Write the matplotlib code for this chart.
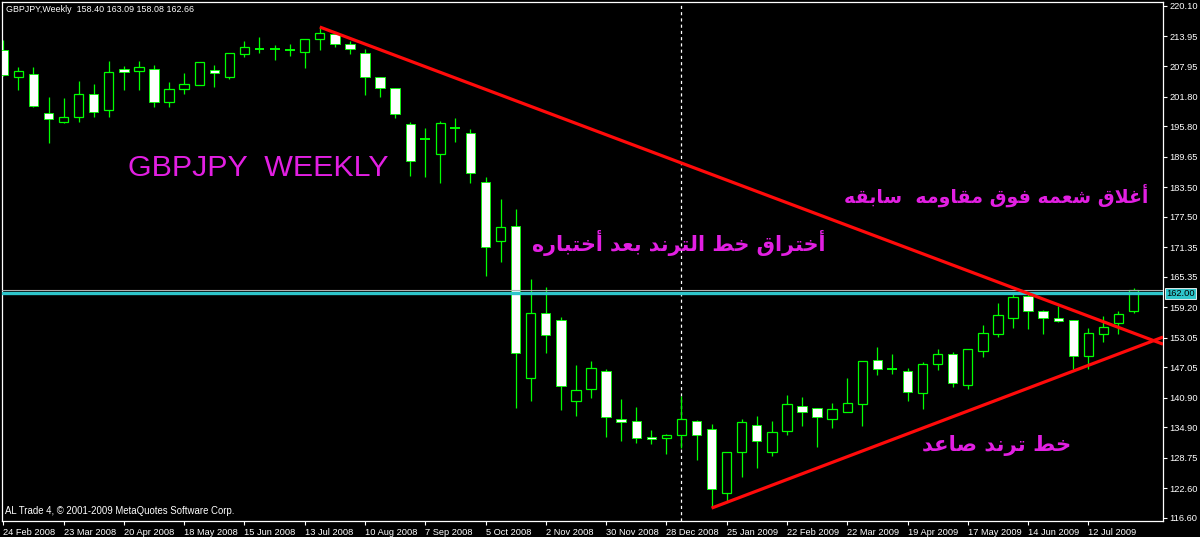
import matplotlib
matplotlib.use('Agg')
import matplotlib.pyplot as plt
import numpy as np
import pandas as pd

# weekly GBPJPY bars
symbol = 'GBPJPY'
first_week = '2008-02-24'
opens = [211.20, 205.80, 206.35, 198.41, 196.59, 197.60, 202.25, 199.01, 207.30, 206.90,
         207.36, 200.63, 203.26, 204.13, 207.16, 205.80, 210.33, 211.40, 211.40, 211.20,
         210.74, 213.43, 214.44, 212.35, 210.66, 205.80, 203.46, 196.24, 193.21, 190.18,
         195.49, 194.36, 184.46, 172.65, 175.69, 144.83, 157.98, 156.62, 140.31, 142.73,
         146.37, 136.55, 136.27, 132.97, 132.77, 133.44, 136.15, 134.53, 121.59, 130.00,
         135.34, 130.00, 134.18, 139.30, 138.77, 136.67, 137.96, 139.58, 148.53, 146.65,
         146.37, 141.80, 147.67, 149.81, 143.48, 150.42, 153.79, 157.09, 161.47, 158.44,
         156.96, 156.62, 149.40, 153.73, 155.95, 158.40]
highs = [213.22, 207.83, 207.83, 201.64, 201.56, 205.00, 204.27, 208.98, 208.03, 208.98,
         208.17, 204.73, 206.49, 208.78, 208.17, 210.53, 213.08, 213.77, 212.21, 212.35,
         213.49, 215.59, 214.58, 213.08, 211.34, 205.80, 203.46, 196.71, 195.37, 196.91,
         197.40, 195.17, 185.47, 181.08, 179.00, 164.91, 163.23, 157.29, 147.52, 148.33,
         146.72, 140.59, 138.97, 134.38, 133.52, 141.32, 136.41, 135.54, 129.88, 136.61,
         137.22, 136.20, 141.46, 141.12, 138.89, 139.78, 144.96, 148.33, 151.22, 149.69,
         146.86, 148.07, 150.76, 150.21, 150.70, 155.61, 160.12, 162.35, 162.35, 158.64,
         159.51, 156.62, 154.94, 157.49, 158.44, 163.09]
lows = [205.95, 203.12, 199.68, 192.40, 196.45, 196.71, 197.72, 197.72, 203.12, 203.12,
        199.62, 199.74, 202.31, 204.13, 203.66, 205.34, 209.85, 210.53, 209.18, 209.99,
        207.62, 211.20, 211.75, 210.33, 202.11, 201.64, 197.40, 185.73, 185.59, 184.26,
        192.66, 184.38, 165.52, 168.29, 138.77, 140.31, 149.89, 138.43, 137.28, 140.79,
        133.03, 132.22, 131.82, 131.55, 129.54, 130.69, 128.32, 118.56, 119.89, 124.95,
        126.76, 129.19, 133.38, 135.25, 131.01, 134.73, 137.96, 135.19, 145.50, 145.71,
        140.25, 138.63, 146.51, 143.14, 142.67, 149.20, 153.12, 155.07, 154.74, 153.73,
        156.28, 146.72, 146.72, 152.11, 153.73, 158.08]
closes = [206.15, 207.02, 199.88, 197.25, 197.60, 202.25, 198.61, 206.69, 206.69, 207.77,
          200.69, 203.38, 204.33, 208.72, 206.61, 210.53, 211.75, 211.40, 211.40, 211.20,
          213.49, 214.58, 212.41, 211.34, 205.68, 203.58, 198.27, 188.82, 193.21, 196.51,
          195.49, 186.40, 171.32, 175.36, 149.89, 157.98, 153.59, 143.34, 142.47, 146.98,
          136.95, 135.94, 132.77, 132.50, 133.44, 136.55, 133.31, 122.40, 129.88, 135.94,
          132.10, 133.92, 139.58, 138.02, 136.95, 138.57, 139.90, 148.33, 146.65, 146.65,
          142.01, 147.79, 149.69, 143.95, 150.70, 153.93, 157.63, 161.21, 158.44, 157.09,
          156.48, 149.40, 154.05, 155.27, 157.84, 162.66]

level_price = 162.00
# trend lines: (bar index, price) anchors, drawn as rays to the right
trend_down = [(21, 215.85), (68, 162.0)]
trend_up = [(47, 118.60), (71, 146.30)]

y_ticks = [220.10, 213.95, 207.95, 201.80, 195.80, 189.65, 183.50, 177.50, 171.35,
           165.35, 159.20, 153.05, 147.05, 140.90, 134.90, 128.75, 122.60, 116.60]

title_text = 'GBPJPY  WEEKLY'
note_break = 'أختراق خط الترند بعد أختباره'
note_close = 'أغلاق شعمه فوق مقاومه  سابقه'
note_up = 'خط ترند صاعد'
copyright_text = 'AL Trade 4, © 2001-2009 MetaQuotes Software Corp.'

GREEN = '#00FF00'
MAGENTA = '#E21FE2'
CYAN = '#2EC6CC'
AXFONT = 'Liberation Sans'

# --- minimal arabic shaping (matplotlib has no shaping) ---
AR_BASE = {'ا': (0xFE8D, 2), 'أ': (0xFE83, 2), 'ب': (0xFE8F, 4), 'ت': (0xFE95, 4),
           'خ': (0xFEA5, 4), 'د': (0xFEA9, 2), 'ر': (0xFEAD, 2), 'س': (0xFEB1, 4),
           'ش': (0xFEB5, 4), 'ص': (0xFEB9, 4), 'ط': (0xFEC1, 4), 'ع': (0xFEC9, 4),
           'غ': (0xFECD, 4), 'ف': (0xFED1, 4), 'ق': (0xFED5, 4), 'ل': (0xFEDD, 4),
           'م': (0xFEE1, 4), 'ن': (0xFEE5, 4), 'ه': (0xFEE9, 4), 'و': (0xFEED, 2)}
LAM_ALEF = {'ا': 0xFEFB, 'أ': 0xFEF7}


def shape_ar(text):
    items = []
    i = 0
    while i < len(text):
        if text[i] == 'ل' and i + 1 < len(text) and text[i + 1] in LAM_ALEF:
            items.append(('LA', text[i + 1]))
            i += 2
        else:
            items.append((text[i], None))
            i += 1

    def jtype(it):
        if it[0] == 'LA':
            return 2
        return AR_BASE.get(it[0], (0, 0))[1]

    out = []
    for i, it in enumerate(items):
        t = jtype(it)
        if t == 0:
            out.append(it[0])
            continue
        prev_j = i > 0 and jtype(items[i - 1]) == 4
        next_j = t == 4 and i + 1 < len(items) and jtype(items[i + 1]) > 0
        if it[0] == 'LA':
            out.append(chr(LAM_ALEF[it[1]] + (1 if prev_j else 0)))
            continue
        off = 3 if (prev_j and next_j) else 1 if prev_j else 2 if next_j else 0
        out.append(chr(AR_BASE[it[0]][0] + off))
    return ''.join(reversed(out))


W, H = 1200, 537
fig = plt.figure(figsize=(W / 100, H / 100), dpi=100, facecolor='black')
ax = fig.add_axes([2 / W, 16 / H, 1161 / W, 519 / H], facecolor='black')


def fpx(x, y):
    return x / W, 1 - y / H


dates = pd.date_range(first_week, periods=len(opens), freq='7D')
o = np.array(opens)
c = np.array(closes)
x = np.arange(len(o))

ax.vlines(x, lows, highs, color=GREEN, lw=0.9, zorder=2)
bull = c > o
bear = c < o
doji = c == o
ax.bar(x[bull], (c - o)[bull], bottom=o[bull], width=0.62, facecolor='black',
       edgecolor=GREEN, linewidth=0.9, zorder=3)
ax.bar(x[bear], (c - o)[bear], bottom=o[bear], width=0.62, facecolor='white',
       edgecolor=GREEN, linewidth=0.6, zorder=3)
ax.hlines(o[doji], x[doji] - 0.33, x[doji] + 0.33, color=GREEN, lw=1.4, zorder=3)

x_right = (1163 - 3.3) / 15.07
ax.set_xlim((2 - 3.3) / 15.07, x_right)
ax.set_ylim(221.31 - 0.20215 * 521, 221.31 - 0.20215 * 2)

# year separator
sep = int(np.argmax(dates.year == 2009))
ax.axvline(sep, color='white', lw=0.9, ls=(0, (2.5, 2.5)), zorder=1)

# horizontal levels: bid line and drawn resistance
ax.axhline(closes[-1], color='#B0B0B0', lw=0.8, zorder=4)
ax.axhline(level_price, color=CYAN, lw=2.4, zorder=4)

for (x0, y0), (x1, y1) in (trend_down, trend_up):
    slope = (y1 - y0) / (x1 - x0)
    ax.plot([x0, x_right], [y0, y0 + slope * (x_right - x0)], color='#FF0A0A',
            lw=2.3, solid_capstyle='butt', zorder=5)

# axes styling
for s in ax.spines.values():
    s.set_color('white')
    s.set_linewidth(0.9)
ax.yaxis.tick_right()
ax.set_yticks(y_ticks)
ax.set_yticklabels([f'{v:.2f}' for v in y_ticks], family=AXFONT)
tick_idx = list(range(0, len(dates), 4))
ax.set_xticks(tick_idx)
ax.set_xticklabels([f'{d.day} {d.strftime("%b %Y")}' for d in dates[tick_idx]],
                   ha='left', family=AXFONT)
ax.tick_params(colors='white', length=3, width=0.8, labelsize=6.7, pad=2)
ax.tick_params(axis='y', pad=1.5)

ax.annotate(f'{level_price:.2f}', xy=(1, level_price), xycoords=('axes fraction', 'data'),
            xytext=(2.5, 0), textcoords='offset points', va='center', ha='left',
            fontsize=6.7, family=AXFONT, color='black',
            bbox=dict(boxstyle='square,pad=0.15', facecolor=CYAN, edgecolor='white', lw=0.6))

fig.text(*fpx(6, 10), f'{symbol},Weekly  {opens[-1]:.2f} {highs[-1]:.2f} '
         f'{lows[-1]:.2f} {closes[-1]:.2f}', color='white', fontsize=6.4, family=AXFONT,
         ha='left', va='center')
fig.text(*fpx(5, 511), copyright_text, color='white', fontsize=6.9, family=AXFONT,
         ha='left', va='center')

labels = [
    (title_text, 258, 168.5, 260, 'Liberation Sans', 'normal'),
    (shape_ar(note_break), 679, 243, 292, 'DejaVu Sans', 'bold'),
    (shape_ar(note_close), 996.5, 195, 303, 'DejaVu Sans', 'bold'),
    (shape_ar(note_up), 997, 445, 150, 'DejaVu Sans', 'bold'),
]
texts = []
for s, cx, cy, w, fam, wt in labels:
    t = fig.text(*fpx(cx, cy), s, color=MAGENTA, fontsize=20, family=fam,
                 fontweight=wt, ha='center', va='center', zorder=10)
    texts.append((t, w))
fig.canvas.draw()
r = fig.canvas.get_renderer()
for t, w in texts:
    t.set_fontsize(t.get_fontsize() * w / t.get_window_extent(r).width)

fig.savefig('out.png', dpi=100, facecolor='black')
